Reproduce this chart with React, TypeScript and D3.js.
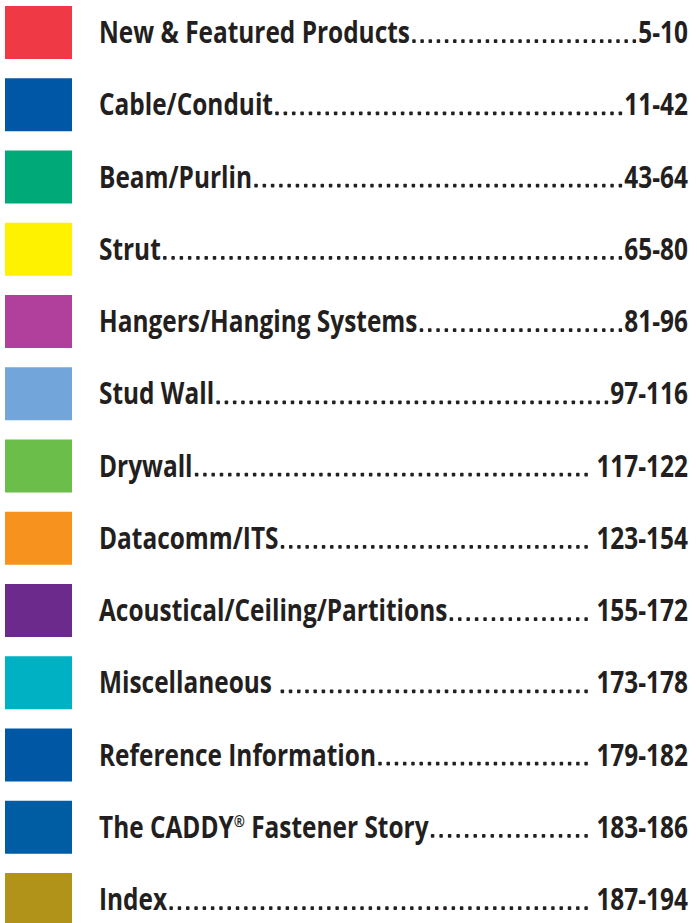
import React, { useEffect, useRef } from "react";
import * as d3 from "d3";

const labels = [
  "New & Featured Products",
  "Cable/Conduit",
  "Beam/Purlin",
  "Strut",
  "Hangers/Hanging Systems",
  "Stud Wall",
  "Drywall",
  "Datacomm/ITS",
  "Acoustical/Ceiling/Partitions",
  "Miscellaneous ",
  "Reference Information",
  "The CADDY® Fastener Story",
  "Index",
];
const pages = [
  "5-10", "11-42", "43-64", "65-80", "81-96", "97-116", "117-122",
  "123-154", "155-172", "173-178", "179-182", "183-186", "187-194",
];
const colors = [
  "#EF3A46", "#0057A5", "#00A978", "#FFF200", "#B0409C", "#72A6DA",
  "#6BBE4A", "#F7921E", "#6B2A8C", "#00B1C4", "#0058A5", "#005DA4", "#B1931A",
];

const W = 698;
const H = 923;

export default function App() {
  const ref = useRef<SVGSVGElement | null>(null);
  useEffect(() => {
    const svg = d3.select(ref.current);
    svg.selectAll("*").remove();
    const y = d3.scaleLinear().domain([0, labels.length - 1]).range([6, 873]);
    const sqX = 5, sqW = 67, sqH = 53;
    const textX = 99, numRight = 688;
    const fs = 30;
    const font = "'Open Sans', 'DejaVu Sans', sans-serif";

    svg.selectAll("rect.sq").data(labels).join("rect").attr("class", "sq")
      .attr("x", sqX).attr("y", (_, i) => y(i))
      .attr("width", sqW).attr("height", sqH)
      .attr("fill", (_, i) => colors[i]);

    const probe = svg.append("text").attr("font-family", font).attr("font-size", fs)
      .attr("font-weight", 700).text(labels[0]);
    const w0 = (probe.node() as SVGTextElement).getComputedTextLength();
    const sx = 311 / w0;
    probe.remove();

    labels.forEach((lab, i) => {
      const base = y(i) + 37;
      const g = svg.append("g");
      const t = g.append("text")
        .attr("transform", `translate(${textX},${base}) scale(${sx},1)`)
        .attr("font-family", font).attr("font-size", fs).attr("font-weight", 700)
        .attr("fill", "#231F20")
        .style("white-space", "pre");
      const parts = lab.split("®");
      parts.forEach((p, k) => {
        const ts = t.append("tspan").text(p);
        if (k > 0) ts.attr("dy", 11);
        if (k < parts.length - 1) {
          t.append("tspan").attr("font-size", fs * 0.55).attr("dy", -11).text("®");
        }
      });
      const lw = (t.node() as SVGTextElement).getComputedTextLength() * sx;
      const num = (pages[i].length >= 7 ? " " : "") + pages[i];
      const n = g.append("text")
        .attr("transform", `translate(${numRight},${base}) scale(${sx},1)`)
        .attr("text-anchor", "end")
        .attr("font-family", font).attr("font-size", fs).attr("font-weight", 700)
        .attr("fill", "#231F20").style("white-space", "pre")
        .text(num);
      const nw = (n.node() as SVGTextElement).getComputedTextLength() * sx;
      const start = textX + lw + 4;
      const end = numRight - nw - 4;
      const count = Math.max(1, Math.round((end - start) / 8.3) + 1);
      const step = (end - start) / (count - 1);
      g.selectAll("rect").data(d3.range(count)).join("rect")
        .attr("x", (d) => start + d * step - 1.7)
        .attr("y", base - 3.8)
        .attr("width", 3.5)
        .attr("height", 3.8)
        .attr("rx", 0.8)
        .attr("fill", "#231F20");
    });
  }, []);
  return (
    <svg
      ref={ref}
      width={W}
      height={H}
      style={{ position: "absolute", left: 0, top: 0, background: "#fff", display: "block" }}
    />
  );
}
